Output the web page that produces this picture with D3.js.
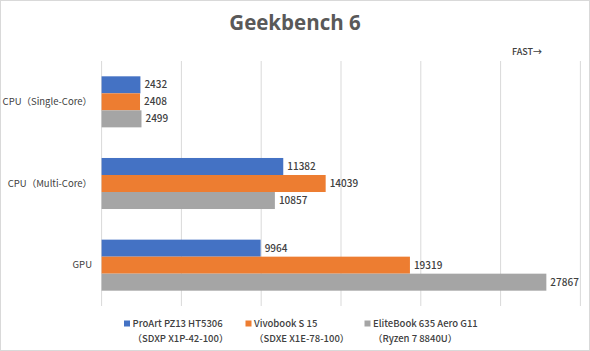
<!DOCTYPE html>
<html><head><meta charset="utf-8">
<script src="https://cdn.jsdelivr.net/npm/d3@7"></script>
<style>
body{margin:0;background:#fff;}
svg{display:block;}
text{font-family:"Noto Sans CJK JP","Noto Sans",sans-serif;}
</style></head><body>
<svg id="c" width="590" height="351"></svg>
<script>
const title = "Geekbench 6";
const categories = ["CPU（Single-Core）", "CPU（Multi-Core）", "GPU"];
const seriesNames = ["ProArt PZ13 HT5306", "Vivobook S 15", "EliteBook 635 Aero G11"];
const seriesSub = ["（SDXP X1P-42-100）", "（SDXE X1E-78-100）", "（Ryzen 7 8840U）"];
const proart = [2432, 11382, 9964];
const vivobook = [2408, 14039, 19319];
const elitebook = [2499, 10857, 27867];
const xTicks = [0, 5000, 10000, 15000, 20000, 25000, 30000];
const colors = ["#4472C4", "#ED7D31", "#A5A5A5"];
const values = [proart, vivobook, elitebook];

const svg = d3.select("#c");
svg.append("rect").attr("x",0.5).attr("y",0.5).attr("width",589).attr("height",350)
  .attr("fill","#fff").attr("stroke","#D9D9D9");

const x = d3.scaleLinear().domain([0,30000]).range([101.6,580.4]);
const y = d3.scaleBand().domain(categories).range([61,306]).paddingInner(0).paddingOuter(0);
const gap = y.bandwidth()*0.375/2;
const yi = d3.scaleBand().domain(d3.range(3)).range([gap, y.bandwidth()-gap]);

// gridlines
svg.append("g").selectAll("line").data(xTicks).join("line")
  .attr("x1",d=>x(d)).attr("x2",d=>x(d)).attr("y1",61).attr("y2",306)
  .attr("stroke","#D9D9D9").attr("stroke-width",1);

// title
svg.append("text").attr("x",295).attr("y",30).attr("text-anchor","middle")
  .attr("font-size",20.5).attr("font-weight","bold").attr("fill","#595959")
  .style("font-family","'Open Sans','Noto Sans',sans-serif").text(title);

svg.append("text").attr("x",512).attr("y",55).attr("font-size",9).attr("font-weight",500).attr("fill","#404040").text("FAST→");

// bars
const g = svg.append("g");
values.forEach((arr,si)=>{
  g.selectAll(".b"+si).data(arr).join("rect")
    .attr("x",x(0)).attr("y",(d,i)=>y(categories[i])+yi(si))
    .attr("width",d=>x(d)-x(0)).attr("height",yi.bandwidth())
    .attr("fill",colors[si]);
  g.selectAll(".l"+si).data(arr).join("text")
    .attr("x",d=>x(d)+4).attr("y",(d,i)=>y(categories[i])+yi(si)+yi.bandwidth()/2)
    .attr("dy","0.35em").attr("font-size",10).attr("font-weight",500).attr("fill","#404040")
    .text(d=>d);
});

// category labels
svg.append("g").selectAll("text").data(categories).join("text")
  .attr("x",92).attr("y",d=>y(d)+y.bandwidth()/2).attr("dy","0.35em")
  .attr("text-anchor","end").attr("font-size",9.5).attr("fill","#404040").text(d=>d);

// legend
const lx = [124, 245.5, 364.5];
const lg = svg.append("g");
seriesNames.forEach((n,i)=>{
  lg.append("rect").attr("x",lx[i]).attr("y",320.5).attr("width",6).attr("height",6).attr("fill",colors[i]);
  lg.append("text").attr("x",lx[i]+8.5).attr("y",324).attr("dy","0.35em").attr("font-size",9.5)
    .attr("font-weight",500).attr("fill","#404040").text(n);
  lg.append("text").attr("x",lx[i]+8.5).attr("y",338.5).attr("dy","0.35em").attr("font-size",9.5)
    .attr("font-weight",500).attr("fill","#404040").text(seriesSub[i]);
});
</script></body></html>
